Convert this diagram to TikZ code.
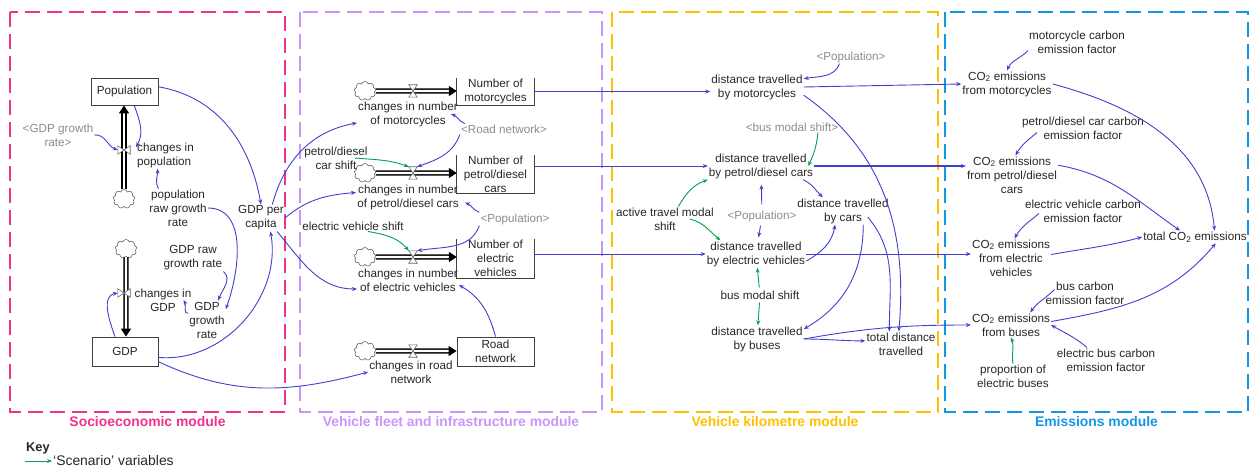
\documentclass[tikz,border=0pt]{standalone}
\usepackage{fontspec}
\setmainfont{Liberation Sans}
\usetikzlibrary{arrows.meta,shapes.symbols}

\definecolor{linkblue}{RGB}{64,64,208}
\definecolor{shiftgreen}{RGB}{0,160,80}
\definecolor{ghostgrey}{RGB}{140,140,140}
\definecolor{socpink}{RGB}{240,50,140}
\definecolor{fleetlilac}{RGB}{200,150,250}
\definecolor{kmyellow}{RGB}{255,192,0}
\definecolor{emisblue}{RGB}{20,150,230}

\begin{document}
\begin{tikzpicture}[x=1pt,y=-1pt,
  font=\fontsize{11.7}{14}\selectfont,
  every node/.style={inner sep=1pt, align=center, text=black!85},
  ghost/.style={text=ghostgrey},
  stock/.style={draw=black!75, line width=0.8pt, minimum width=77pt, inner sep=0.5pt},
  opentop/.style={minimum width=77pt, inner sep=0.5pt},
  cloudy/.style={cloud, cloud puffs=9, draw=black!70, line width=0.5pt, minimum width=22pt, minimum height=19pt, inner sep=0pt},
  valve/.style={minimum width=8pt, minimum height=12pt, inner sep=0pt},
  vvalve/.style={minimum width=12pt, minimum height=8pt, inner sep=0pt},
  pipe/.style={draw=black, line width=1.5pt, double=white, double distance=2.4pt, -{Triangle[length=8pt,width=10pt]}},
  link/.style={draw=linkblue, line width=0.9pt, -{Stealth[length=5pt,width=4pt]}},
  fatlink/.style={link, line width=1.8pt},
  scenario/.style={link, draw=shiftgreen},
  modframe/.style={line width=2pt, dash pattern=on 15pt off 7pt},
  modlabel/.style={font=\fontsize{13.9}{16}\selectfont\bfseries}]
\useasboundingbox (0,0) rectangle (1259,468);

% module frames
\draw[modframe, draw=socpink] (10,12) rectangle (285,412);
\draw[modframe, draw=fleetlilac] (300,12) rectangle (602,412);
\draw[modframe, draw=kmyellow] (612,12) rectangle (938,412);
\draw[modframe, draw=emisblue] (945,12) rectangle (1248,412);
\node[modlabel, text=socpink] (socl) at (147.5,422) {Socioeconomic module};
\node[modlabel, text=fleetlilac] (fleetl) at (451,422) {Vehicle fleet and infrastructure module};
\node[modlabel, text=kmyellow] (kml) at (775,422) {Vehicle kilometre module};
\node[modlabel, text=emisblue] (emisl) at (1096.5,422) {Emissions module};

% socioeconomic
\node[stock, minimum width=67pt, minimum height=27pt] (pop) at (124.5,91.5) {Population};
\node[stock, minimum width=66pt, minimum height=29pt] (gdp) at (125,351.5) {GDP};
\node[cloudy] (cpop) at (124,199) {};
\node[cloudy] (cgdp) at (126,249) {};
\node[vvalve] (vpop) at (124,150) {};
\node[vvalve] (vgdp) at (124,293) {};
\node[anchor=west, align=left] (chpop) at (136,155) {changes in\\population};
\node[ghost] (ggrowth) at (58,135) {<GDP growth\\rate>};
\node (popraw) at (178,208) {population\\raw growth\\rate};
\node (chgdp) at (163,300) {changes in\\GDP};
\node (gdpraw) at (193,258) {GDP raw\\growth rate};
\node (gdpgr) at (207,320) {GDP\\growth\\rate};
\node (gdppc) at (261,218) {GDP per\\capita};

% vehicle fleet
\node[opentop, minimum height=27pt] (nmc) at (495.5,91.5) {Number of\\motorcycles};
\node[opentop, minimum height=38pt] (npd) at (495.5,174) {Number of\\petrol/diesel\\cars};
\node[opentop, minimum height=39pt] (nev) at (495.5,258.5) {Number of\\electric\\vehicles};
\node[stock, minimum height=29pt] (nrn) at (495.5,351.5) {Road\\network};
\node[cloudy] (cmc) at (365,91) {};
\node[cloudy] (cpd) at (365,173) {};
\node[cloudy] (cev) at (365,257) {};
\node[cloudy] (crn) at (365,351) {};
\node[valve] (vmc) at (413,91) {};
\node[valve] (vpd) at (413,173) {};
\node[valve] (vev) at (413,257) {};
\node[valve] (vrn) at (413,351) {};
\node (chmc) at (408,114) {changes in number\\of motorcycles};
\node (chpd) at (408,197) {changes in number\\of petrol/diesel cars};
\node (chev) at (408,280) {changes in number\\of electric vehicles};
\node (chrn) at (411,372) {changes in road\\network};
\node[ghost] (roadsh) at (504,129) {<Road network>};
\node (pdshift) at (336,158) {petrol/diesel\\car shift};
\node[ghost] (popsh) at (515,219) {<Population>};
\node (evshift) at (353,226) {electric vehicle shift};

% vehicle kilometres
\node (dmc) at (757,87) {distance travelled\\by motorcycles};
\node[ghost] (popkm) at (851,57) {<Population>};
\node (dpd) at (761,166) {distance travelled\\by petrol/diesel cars};
\node[ghost] (busms) at (792,127) {<bus modal shift>};
\node (active) at (665,219) {active travel modal\\shift};
\node[ghost] (popev) at (762,216) {<Population>};
\node (dev) at (756,254) {distance travelled\\by electric vehicles};
\node (busshift) at (760,295) {bus modal shift};
\node (dbus) at (757,339) {distance travelled\\by buses};
\node (dcars) at (843,211) {distance travelled\\by cars};
\node (dtot) at (901,344) {total distance\\travelled};

% emissions
\node (mcf) at (1077,42) {motorcycle carbon\\emission factor};
\node (emc) at (1007,84) {CO\textsubscript{2} emissions\\from motorcycles};
\node (pdcf) at (1083,128) {petrol/diesel car carbon\\emission factor};
\node (epd) at (1012,175) {CO\textsubscript{2} emissions\\from petrol/diesel\\cars};
\node (evcf) at (1083,211) {electric vehicle carbon\\emission factor};
\node (eev) at (1011,258) {CO\textsubscript{2} emissions\\from electric\\vehicles};
\node (etot) at (1195,237) {total CO\textsubscript{2} emissions};
\node (bcf) at (1085,293) {bus carbon\\emission factor};
\node (ebus) at (1011,325) {CO\textsubscript{2} emissions\\from buses};
\node (ebcf) at (1106,360) {electric bus carbon\\emission factor};
\node (propeb) at (1013,376) {proportion of\\electric buses};

% key
\node[anchor=west, font=\fontsize{12.8}{15}\selectfont\bfseries] (key) at (25,448) {Key};
\coordinate (keyfrom) at (25,461);
\node[anchor=west, font=\fontsize{13.9}{16}\selectfont] (keytxt) at (52,461) {`Scenario' variables};
\draw[scenario] (keyfrom) -- (keytxt.west);

% stocks without top edge
\foreach \s in {nmc,npd,nev}
  \draw[black!75, line width=0.8pt] (\s.north west) |- (\s.south east) -- (\s.north east);

% flows
\draw[pipe] (cpop) -- (cpop |- pop.south);
\draw[pipe] (cgdp) -- (cgdp |- gdp.north);
\draw[pipe] (cmc) -- (cmc -| nmc.west);
\draw[pipe] (cpd) -- (cpd -| npd.west);
\draw[pipe] (cev) -- (cev -| nev.west);
\draw[pipe] (crn) -- (crn -| nrn.west);
\foreach \v in {vmc,vpd,vev,vrn}
  \draw[black!60, fill=white, line width=0.6pt] (\v.north west) -- (\v.north east) -- (\v.south west) -- (\v.south east) -- cycle;
\foreach \v in {vpop,vgdp}
  \draw[black!60, fill=white, line width=0.6pt] (\v.north west) -- (\v.south west) -- (\v.north east) -- (\v.south east) -- cycle;

% socioeconomic links
\draw[link] (ggrowth.east) to[out=5,in=160] (vpop.west);
\draw[link] (pop.-55) to[out=-70,in=60] (chpop.165);
\draw[link] (popraw.135) to[out=120,in=-90] (chpop.-120);
\draw[link] (popraw.east) to[out=0,in=70] (gdpgr.30);
\draw[link] (gdpraw.south east) to[out=-40,in=70] (gdpgr.60);
\draw[link] (gdpgr.160) to[out=200,in=-60] ([xshift=-9pt]chgdp.east);
\draw[link] ([xshift=-10pt]gdp.north) to[out=110,in=190] (vgdp.west);
\draw[link] (pop.8) to[out=-10,in=100] (gdppc.north);
\draw[link] (gdp.-10) to[out=-5,in=-80] (gdppc.-55);
\draw[link] (gdp.-17) to[out=-25,in=195] (chrn.west);
\draw[link] (gdppc.50) to[out=75,in=190] (chmc.190);
\draw[link] (gdppc.east) to[out=40,in=185] (chpd.175);
\draw[link] (gdppc.-40) to[out=-50,in=180] (chev.190);

% fleet links
\draw[link] ([xshift=5pt]roadsh.north west) to[out=160,in=-20] ([xshift=-8pt]chmc.east);
\draw[link] (roadsh.south west) to[out=-110,in=20] (vpd.north east);
\draw[scenario] ([xshift=-14pt]pdshift.east) to[out=-5,in=160] (vpd.north west);
\draw[link] (popsh.north west) to[out=160,in=-20] ([xshift=5pt,yshift=8pt]chpd.south east);
\draw[link] (popsh.south west) to[out=-110,in=10] (vev.north east);
\draw[scenario] (evshift.-20) to[out=-10,in=130] (vev.north west);
\draw[link] (nrn.north) to[out=105,in=-30] ([yshift=-5pt]chev.east);
\draw[fatlink] (nmc.east) -- (nmc.east -| dmc.west);
\draw[link] (dpd.west -| npd.east) -- (dpd.west);
\draw[link] (dev.west -| nev.east) -- (dev.west);

% kilometre links
\draw[link] (popkm.-150) to[out=-110,in=10] (dmc.10);
\draw[link] (dmc.east) -- (emc.west);
\draw[link] (dmc.-10) to[out=-35,in=85] (dtot.100);
\draw[scenario] (busms.-12) to[out=-95,in=65] ([xshift=-6pt]dpd.east);
\draw[fatlink] (dpd.east) -- (dpd.east -| epd.west);
\draw[scenario] (active.43) to[out=60,in=200] (dpd.south west);
\draw[scenario] ([xshift=-25pt]active.east) to[out=-15,in=140] (dev.159);
\draw[link, shorten <=5pt, shorten >=5pt] (popev) -- (dpd);
\draw[link, shorten <=3pt, shorten >=3pt] (popev) -- (dev);
\draw[scenario, shorten <=2pt] (busshift) -- (dev);
\draw[scenario, shorten <=2pt] (busshift) -- (dbus);
\draw[link] (dpd.-18) to[out=-25,in=135] (dcars.146);
\draw[link] (dev.-8) to[out=30,in=-100] (dcars.-120);
\draw[link] ([xshift=-22pt,yshift=-6pt]dcars.east) to[out=-50,in=90] (dtot.133);
\draw[link] (dcars.-34) to[out=-90,in=30] (dbus.12);
\draw[link] (dbus.east) to[out=0,in=180] (dtot.175);
\draw[link] (dbus.east) to[out=10,in=180] (ebus.west);
\draw[link] (dev.east) -- (dev.east -| eev.west);

% emission links
\draw[link] (mcf.190) to[out=-135,in=65] (emc.north);
\draw[link] ([xshift=16pt,yshift=8pt]pdcf.south west) to[out=-140,in=60] (epd.80);
\draw[link] ([xshift=15pt,yshift=10pt]evcf.south west) to[out=-140,in=60] (eev.80);
\draw[link] (emc.east) to[out=-15,in=95] (etot.18);
\draw[link] (epd.12) to[out=-10,in=145] (etot.157);
\draw[link] (eev.5) to[out=10,in=195] (etot.west);
\draw[link] (ebus.5) to[out=10,in=-130] (etot.-17);
\draw[link] ([xshift=10pt,yshift=-9pt]bcf.north west) to[out=-135,in=55] (ebus.33);
\draw[link] ([xshift=-19pt]ebcf.north) to[out=140,in=-30] (ebus.east);
\draw[scenario] (propeb.north) to[out=100,in=-70] (ebus.south);
\end{tikzpicture}
\end{document}
